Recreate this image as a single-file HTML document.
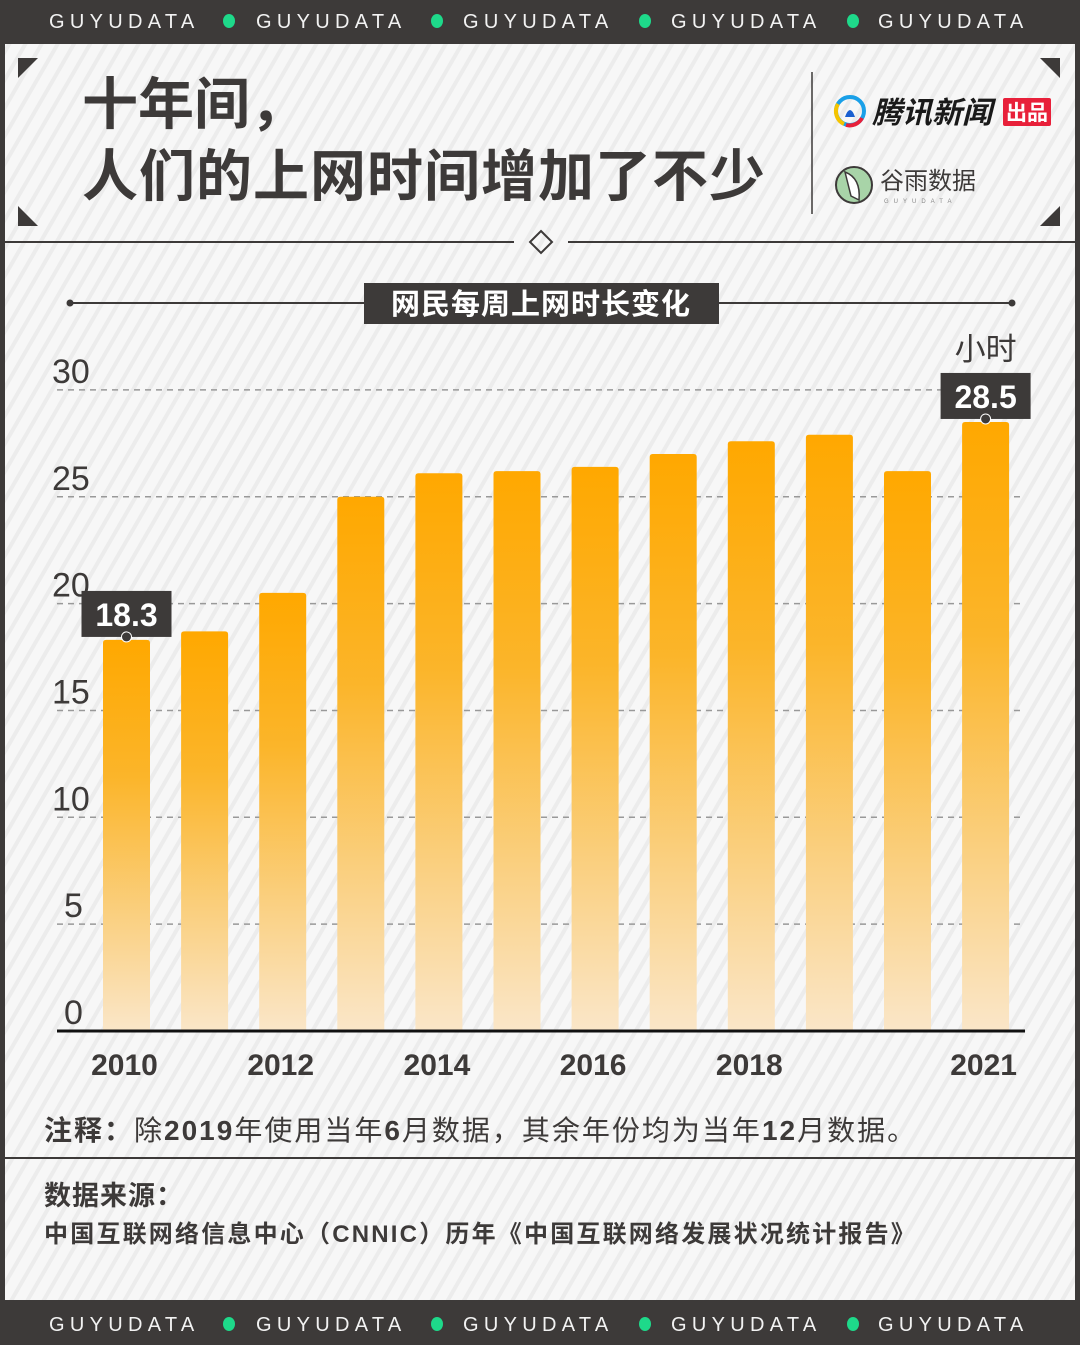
<!DOCTYPE html>
<html><head><meta charset="utf-8">
<style>
html,body{margin:0;padding:0;width:1080px;height:1345px;overflow:hidden;background:#3d3a39;}
svg text{font-family:"Liberation Sans","Noto Sans CJK SC",sans-serif;}
</style></head>
<body>
<svg width="1080" height="1345" viewBox="0 0 1080 1345" xmlns="http://www.w3.org/2000/svg">
<defs>
<pattern id="stripes" width="14" height="14" patternUnits="userSpaceOnUse" patternTransform="rotate(30)">
<rect width="14" height="14" fill="#f7f7f7"/>
<rect width="4" height="14" fill="#ececec"/>
</pattern>
<linearGradient id="barg" x1="0" y1="0" x2="0" y2="1">
<stop offset="0" stop-color="#ffa800"/>
<stop offset="0.35" stop-color="#fbb52a"/>
<stop offset="1" stop-color="#fae6c8"/>
</linearGradient>
</defs>
<rect x="0" y="0" width="1080" height="1345" fill="#3d3a39"/>
<rect x="5" y="44" width="1070" height="1256" fill="url(#stripes)"/>
<g id="banners" fill="#f2f2f2" font-size="20" letter-spacing="5.3">
<g>
<text x="49" y="28">GUYUDATA</text><text x="256" y="28">GUYUDATA</text><text x="463" y="28">GUYUDATA</text><text x="671" y="28">GUYUDATA</text><text x="878" y="28">GUYUDATA</text>
<g fill="#1ed98a"><ellipse cx="229" cy="21" rx="6" ry="7"/><ellipse cx="437" cy="21" rx="6" ry="7"/><ellipse cx="645" cy="21" rx="6" ry="7"/><ellipse cx="853" cy="21" rx="6" ry="7"/></g>
</g>
<g>
<text x="49" y="1331">GUYUDATA</text><text x="256" y="1331">GUYUDATA</text><text x="463" y="1331">GUYUDATA</text><text x="671" y="1331">GUYUDATA</text><text x="878" y="1331">GUYUDATA</text>
<g fill="#1ed98a"><ellipse cx="229" cy="1324" rx="6" ry="7"/><ellipse cx="437" cy="1324" rx="6" ry="7"/><ellipse cx="645" cy="1324" rx="6" ry="7"/><ellipse cx="853" cy="1324" rx="6" ry="7"/></g>
</g>
</g>
<g fill="#3d3a39">
<polygon points="18,58 38,58 18,78"/><polygon points="1060,58 1040,58 1060,78"/>
<polygon points="18,226 38,226 18,206"/><polygon points="1060,226 1040,226 1060,206"/>
</g>
<g fill="#3d3a39" font-weight="bold" font-size="56">
<text x="82" y="124">十年间，</text>
<text x="82" y="196" letter-spacing="1">人们的上网时间增加了不少</text>
</g>
<line x1="812" y1="72" x2="812" y2="214" stroke="#3d3a39" stroke-width="1.5"/>
<g>
<circle cx="850" cy="111" r="14" fill="none" stroke="#1aa0e8" stroke-width="4"/>
<path d="M838 104 A14 14 0 0 0 844 124" stroke="#f5c400" stroke-width="4" fill="none"/>
<path d="M846 125 A14 14 0 0 0 862 118" stroke="#e8203a" stroke-width="4" fill="none"/>
<path d="M845 117 q5 -14 10 0 z" fill="#1a5fd0"/>
<text x="872" y="123" font-size="30" font-weight="bold" font-style="italic" fill="#1a1a1a">腾讯新闻</text>
<rect x="1003" y="98" width="48" height="28" rx="2" fill="#e8203a"/>
<text x="1027" y="120" font-size="21" font-weight="bold" fill="#fff" text-anchor="middle">出品</text>
</g>
<g>
<circle cx="854" cy="185" r="18" fill="#a8d4a8" stroke="#3d3a39" stroke-width="2"/>
<path d="M845 172 q16 6 14 28 l-8 -4 z" fill="#fff" stroke="#3d3a39" stroke-width="1.5"/>
<text x="880" y="189" font-size="24" fill="#3d3a39" font-family="Noto Serif CJK SC,serif">谷雨数据</text>
<text x="884" y="203" font-size="6" fill="#888" letter-spacing="5">GUYUDATA</text>
</g>
<line x1="5" y1="242" x2="514" y2="242" stroke="#3d3a39" stroke-width="2"/>
<line x1="568" y1="242" x2="1075" y2="242" stroke="#3d3a39" stroke-width="2"/>
<polygon points="541,231 552,242 541,253 530,242" fill="none" stroke="#3d3a39" stroke-width="2"/>
<g>
<line x1="70" y1="303" x2="1012" y2="303" stroke="#3d3a39" stroke-width="2"/>
<circle cx="70" cy="303" r="3.5" fill="#3d3a39"/><circle cx="1012" cy="303" r="3.5" fill="#3d3a39"/>
<rect x="364" y="283" width="355" height="41" fill="#3d3a39"/>
<text x="541" y="314" font-size="29" fill="#fff" text-anchor="middle" font-weight="bold" letter-spacing="1">网民每周上网时长变化</text>
</g>
<g id="chart"></g>
<g fill="#3d3a39">
<text x="44" y="1140" font-size="28" letter-spacing="2"><tspan font-weight="bold">注释：</tspan>除<tspan font-weight="bold">2019</tspan>年使用当年<tspan font-weight="bold">6</tspan>月数据，其余年份均为当年<tspan font-weight="bold">12</tspan>月数据。</text>
</g>
<line x1="5" y1="1158" x2="1075" y2="1158" stroke="#3d3a39" stroke-width="2"/>
<g fill="#3d3a39">
<text x="44" y="1205" font-size="27" font-weight="bold" letter-spacing="1">数据来源：</text>
<text x="44" y="1242" font-size="24" letter-spacing="2.2" font-weight="bold">中国互联网络信息中心（CNNIC）历年《中国互联网络发展状况统计报告》</text>
</g>
</svg>
<script>
const categories = ['2010','2011','2012','2013','2014','2015','2016','2017','2018','2019','2020','2021'];
const values = [18.3, 18.7, 20.5, 25.0, 26.1, 26.2, 26.4, 27.0, 27.6, 27.9, 26.2, 28.5];
const yTicks = [0, 5, 10, 15, 20, 25, 30];
const xLabels = ['2010','2012','2014','2016','2018','2021'];
const callouts = ['2010','2021'];

const NS = 'http://www.w3.org/2000/svg';
const g = document.getElementById('chart');
const y0 = 1031, pxPerUnit = 21.37;
const y = v => y0 - v * pxPerUnit;
const x0 = 126.5, step = 78.1;
const xc = i => x0 + i * step;
const barW = 47;
function mk(tag, attrs, parent){ const e = document.createElementNS(NS, tag); for (const k in attrs) e.setAttribute(k, attrs[k]); (parent||g).appendChild(e); return e; }

yTicks.forEach(t => {
  if (t > 0) {
    const l = mk('line', {x1:57, x2:1025, y1:y(t), y2:y(t), stroke:'#999', 'stroke-width':1.5, 'stroke-dasharray':'6 5'});
    
    
  }
  const tx = mk('text', {x:t < 10 ? 64 : 52, y:y(t) - 7, 'font-size':34, fill:'#3d3a39'});
  tx.textContent = t;
  
  
});

values.forEach((v, i) => {
  const r = mk('path', {fill:'url(#barg)', d:`M${xc(i)-barW/2} ${y0} V${y(v)+3} q0 -3 3 -3 H${xc(i)+barW/2-3} q3 0 3 3 V${y0} Z`});
  
  
});

const base = mk('line', {x1:57, x2:1025, y1:y0, y2:y0, stroke:'#111', 'stroke-width':3});



xLabels.forEach(lab => {
  const i = categories.indexOf(lab);
  const t = mk('text', {x:xc(i) - 2, y:1075, 'font-size':30, 'font-weight':'bold', fill:'#3d3a39', 'text-anchor':'middle'});
  t.textContent = lab;
  
  
});

callouts.forEach(lab => {
  const i = categories.indexOf(lab);
  const v = values[i];
  const cx = xc(i), top = y(v);
  const grp = mk('g', {});
  
  
  mk('rect', {x:cx-45, y:top-49, width:90, height:46, fill:'#3d3a39'}, grp);
  const t = mk('text', {x:cx, y:top-14, 'font-size':32, 'font-weight':'bold', fill:'#fff', 'text-anchor':'middle'}, grp);
  t.textContent = v.toFixed(1);
  mk('circle', {cx:cx, cy:top-3, r:5, fill:'#3d3a39', stroke:'#fff', 'stroke-width':1}, grp);
});

const unit = mk('text', {x:xc(11), y:360, 'font-size':31, fill:'#3d3a39', 'text-anchor':'middle'});
unit.textContent = '小时';


</script>
</body></html>
